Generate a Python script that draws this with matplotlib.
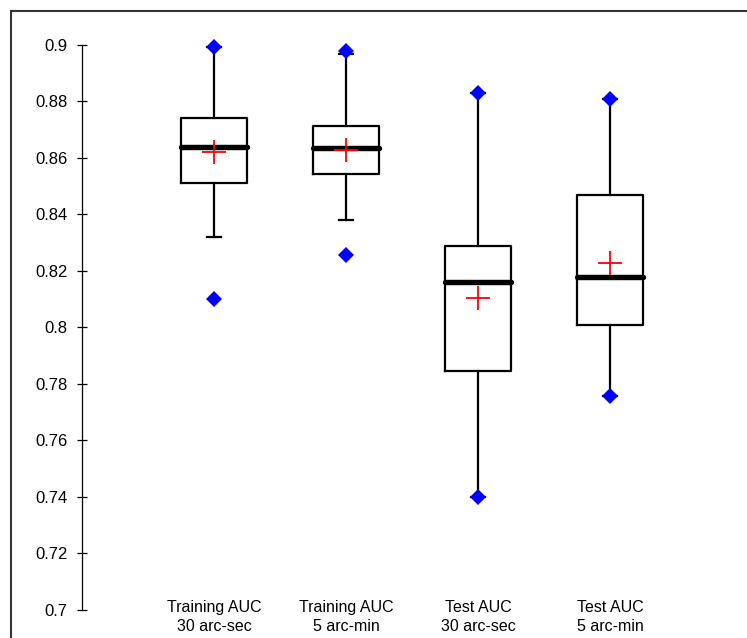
import matplotlib
matplotlib.use("Agg")
import matplotlib.pyplot as plt
import matplotlib.transforms as mtransforms
from matplotlib.lines import Line2D
from matplotlib.ticker import FuncFormatter, MultipleLocator

plt.rcParams['font.family'] = ['Liberation Sans', 'DejaVu Sans']

# Summary statistics of AUC per model setting
labels = ["Training AUC\n30 arc-sec", "Training AUC\n5 arc-min",
          "Test AUC\n30 arc-sec", "Test AUC\n5 arc-min"]
q1 = [0.8510, 0.8542, 0.7847, 0.8010]
median = [0.8638, 0.8634, 0.8160, 0.8179]
q3 = [0.8741, 0.8713, 0.8290, 0.8470]
mean = [0.8620, 0.8627, 0.8104, 0.8227]
whisker_low = [0.8320, 0.8381, 0.7399, 0.7758]
whisker_high = [0.8993, 0.8967, 0.8829, 0.8809]
minimum = [0.8102, 0.8258, 0.7399, 0.7758]
maximum = [0.8993, 0.8979, 0.8829, 0.8809]

W, H = 747, 638
fig = plt.figure(figsize=(W / 100, H / 100), dpi=100)
ax = fig.add_axes([82 / W, (H - 610) / H, (742 - 82) / W, (610 - 45) / H])

positions = list(range(1, len(labels) + 1))
stats = []
for i in range(len(labels)):
    stats.append(dict(label=labels[i], med=median[i], q1=q1[i], q3=q3[i],
                      whislo=whisker_low[i], whishi=whisker_high[i],
                      mean=mean[i], fliers=[]))

ax.bxp(stats, positions=positions, widths=0.5, showfliers=False,
       showmeans=True, capwidths=0.11,
       boxprops=dict(color='black', linewidth=1.6),
       whiskerprops=dict(color='black', linewidth=1.6),
       capprops=dict(color='black', linewidth=1.6),
       medianprops=dict(color='black', linewidth=3.9, solid_capstyle='round'),
       meanprops=dict(marker='+', markeredgecolor='red', markersize=17,
                      markeredgewidth=1.3, linestyle='none'))

ax.plot(positions, minimum, linestyle='none', marker='D', color='#0000FF',
        markersize=8, markeredgewidth=0, clip_on=False, zorder=5)
ax.plot(positions, maximum, linestyle='none', marker='D', color='#0000FF',
        markersize=8, markeredgewidth=0, clip_on=False, zorder=5)

ax.set_xlim(0, 5)
ax.set_ylim(0.7, 0.9)
ax.yaxis.set_major_locator(MultipleLocator(0.02))
ax.yaxis.set_major_formatter(FuncFormatter(lambda v, p: f"{v:.2f}".rstrip('0').rstrip('.')))
ax.tick_params(axis='y', direction='inout', length=7, width=0.9, pad=7,
               labelsize=12, colors='black')
ax.set_xticks([])
for side in ('top', 'right', 'bottom'):
    ax.spines[side].set_visible(False)
ax.spines['left'].set_linewidth(0.9)

# Category labels under each box
trans = mtransforms.blended_transform_factory(ax.transData, fig.transFigure)
for x, lab in zip(positions, labels):
    ax.text(x, (H - 617) / H, lab, transform=trans, ha='center', va='center',
            fontsize=11.5, linespacing=1.4)

# Outer chart frame
fig.add_artist(Line2D([11 / W, 1.0], [(H - 11) / H, (H - 11) / H],
                      transform=fig.transFigure, color='#333333', linewidth=1.5))
fig.add_artist(Line2D([11 / W, 11 / W], [0.0, (H - 11) / H],
                      transform=fig.transFigure, color='#333333', linewidth=1.5))

fig.savefig("out.png", dpi=100)
